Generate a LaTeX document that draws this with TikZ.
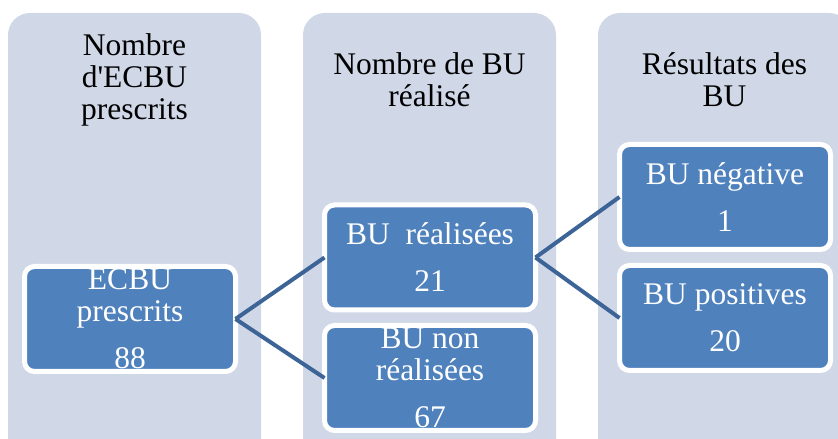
\documentclass[tikz,border=0pt]{standalone}
\usepackage{fontspec}
\setmainfont{Liberation Serif}
\definecolor{colbg}{HTML}{D0D8E8}
\definecolor{boxblue}{HTML}{4F81BD}
\definecolor{linkblue}{HTML}{3D6497}

\begin{document}
\begin{tikzpicture}[x=1pt, y=1pt,
        column/.style={fill=colbg, rounded corners=22pt},
        header/.style={align=center, inner sep=0pt, font=\fontsize{31.5}{32}\selectfont},
        item/.style={fill=boxblue, draw=white, line width=5pt, rounded corners=10pt,
            minimum width=211pt, minimum height=105pt, inner sep=0pt, outer sep=0pt,
            align=center, text=white, font=\fontsize{31.5}{32}\selectfont},
        link/.style={draw=linkblue, line width=4pt}]
    \clip (0,0) rectangle (838,439);
    \fill[column] (8,-40) rectangle (261,426);
    \fill[column] (303,-40) rectangle (556,426);
    \fill[column] (598,-40) rectangle (851,426);
    \node[header] (h1) at (134.5,359) {Nombre\\d\textquotesingle ECBU\\prescrits};
    \node[header] (h2) at (429.5,359) {Nombre de BU\\réalisé};
    \node[header] (h3) at (724.5,359) {Résultats des\\BU};
    \node[item] (ecbu) at (130,120) {ECBU\\prescrits\\[15pt]88};
    \node[item] (real) at (430,181.5) {BU\ \ réalisées\\[15pt]21};
    \node[item] (nonreal) at (430,61) {BU non\\réalisées\\[15pt]67};
    \node[item] (neg) at (725,242) {BU négative\\[15pt]1};
    \node[item] (pos) at (725,121) {BU positives\\[15pt]20};
    \draw[link] (ecbu.east) -- (real.west);
    \draw[link] (ecbu.east) -- (nonreal.west);
    \draw[link] (real.east) -- (neg.west);
    \draw[link] (real.east) -- (pos.west);
\end{tikzpicture}
\end{document}
